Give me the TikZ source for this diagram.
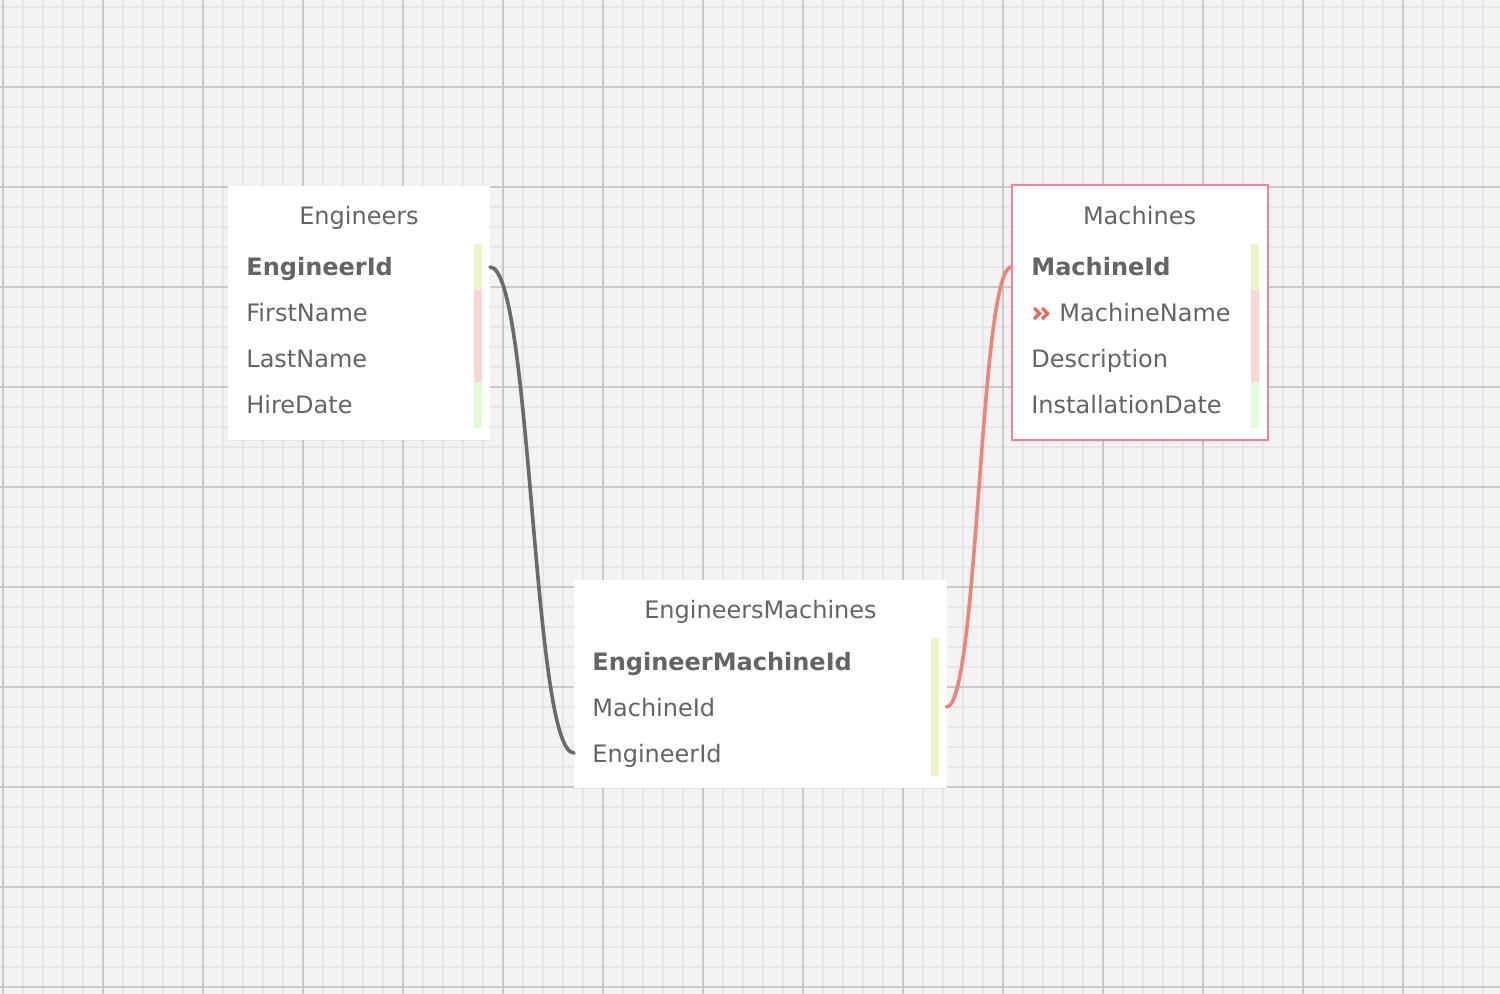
\documentclass[tikz,border=0pt]{standalone}
\usepackage{fontspec}
\setmainfont{DejaVu Sans}
\usetikzlibrary{shadows}
\definecolor{bg}{HTML}{F3F3F3}
\definecolor{gridminor}{HTML}{E6E6E6}
\definecolor{gridmajor}{HTML}{C9C9C9}
\definecolor{txt}{HTML}{646464}
\definecolor{pkborder}{HTML}{EE82A6}
\definecolor{barY}{HTML}{F2F2C8}
\definecolor{barP}{HTML}{F8D6D6}
\definecolor{barG}{HTML}{E2FCD9}
\definecolor{lnGray}{HTML}{6A6A6A}
\definecolor{lnRed}{HTML}{EE8478}
\definecolor{chev}{HTML}{F0645A}
\begin{document}
\begin{tikzpicture}[x=0.5pt,y=-0.5pt,
  tablebox/.style={fill=white, inner sep=0pt, outer sep=0pt,
    drop shadow={shadow xshift=0pt, shadow yshift=-0.7pt, opacity=0.12}},
  rowtxt/.style={anchor=base west, inner sep=0pt, text=txt,
    font=\fontsize{12}{14}\selectfont},
  titletxt/.style={anchor=base, inner sep=0pt, text=txt,
    font=\fontsize{12}{14}\selectfont},
  conn/.style={line width=1.8pt, line cap=round},
  chevron/.style={draw=chev, line width=1.6pt, line cap=butt, line join=miter}
]
\useasboundingbox (0,0) rectangle (1500,994);
% background grid
\fill[bg] (0,0) rectangle (1500,994);
\foreach \i in {0,...,74} \draw[gridminor, line width=1pt] (3+20*\i,0) -- (3+20*\i,994);
\foreach \j in {0,...,49} \draw[gridminor, line width=1pt] (0,7+20*\j) -- (1500,7+20*\j);
\foreach \i in {0,...,14} \draw[gridmajor, line width=1pt] (3+100*\i,0) -- (3+100*\i,994);
\foreach \j in {0,...,9} \draw[gridmajor, line width=1pt] (0,87+100*\j) -- (1500,87+100*\j);

% Engineers table
\node[tablebox, minimum width=131pt, minimum height=127pt] (eng) at (359,313) {};
\node[titletxt] (engT) at (359,225) {Engineers};
\node[rowtxt] (e1) at (246,276) {\textbf{EngineerId}};
\node[rowtxt] (e2) at (246,322) {FirstName};
\node[rowtxt] (e3) at (246,368) {LastName};
\node[rowtxt] (e4) at (246,414) {HireDate};
\fill[barY] (474,244) rectangle (482,290);
\fill[barP] (474,290) rectangle (482,382);
\fill[barG] (474,382) rectangle (482,428);

% Machines table
\node[tablebox, draw=pkborder, line width=1pt, minimum width=128pt, minimum height=127.5pt] (mac) at (1139.5,313) {};
\node[titletxt] (macT) at (1139.5,225) {Machines};
\node[rowtxt] (m1) at (1031,276) {\textbf{MachineId}};
\draw[chevron] (1034,308) -- (1039.5,313.5) -- (1034,319);
\draw[chevron] (1042,308) -- (1047.5,313.5) -- (1042,319);
\node[rowtxt] (m2) at (1059,322) {MachineName};
\node[rowtxt] (m3) at (1031,368) {Description};
\node[rowtxt] (m4) at (1031,414) {InstallationDate};
\fill[barY] (1251,244) rectangle (1259,290);
\fill[barP] (1251,290) rectangle (1259,382);
\fill[barG] (1251,382) rectangle (1259,428);

% EngineersMachines table
\node[tablebox, minimum width=186.25pt, minimum height=103.75pt] (em) at (760.25,683.75) {};
\node[titletxt] (emT) at (760.5,618) {EngineersMachines};
\node[rowtxt] (em1) at (592,670) {\textbf{EngineerMachineId}};
\node[rowtxt] (em2) at (592,716) {MachineId};
\node[rowtxt] (em3) at (592,762) {EngineerId};
\fill[barY] (931,638) rectangle (939,776);

% connector anchors
\coordinate (engR1) at (eng.east |- 0,267);
\coordinate (emL3) at (em.west |- 0,753);
\coordinate (emR2) at (em.east |- 0,707);
\coordinate (macL1) at (mac.west |- 0,267);

\draw[conn, lnGray] (engR1) .. controls +(42,0) and +(-42,0) .. (emL3);
\draw[conn, lnRed] (emR2) .. controls +(32,0) and +(-32,0) .. (macL1);
\end{tikzpicture}
\end{document}
